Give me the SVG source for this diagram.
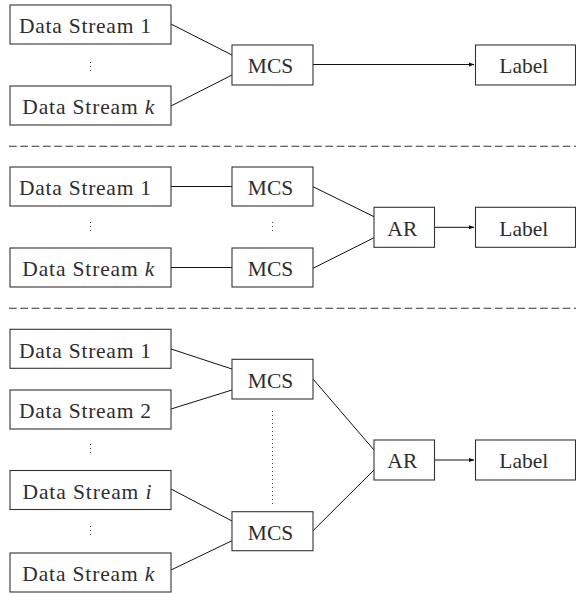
<svg xmlns="http://www.w3.org/2000/svg" width="576" height="593" viewBox="0 0 576 593">
  <style>
    .box { fill: #ffffff; stroke: #333333; stroke-width: 1.1; }
    .lbl { font-size: 21.5px; fill: #2e2e2e; text-anchor: middle; }
    .it { font-style: italic; }
    .edge { stroke: #111111; stroke-width: 1; fill: none; }
    .sep { stroke: #333333; stroke-width: 1.1; stroke-dasharray: 7.7 3.6; }
    .vd { stroke: #444444; stroke-width: 1; stroke-dasharray: 1 3; }
  </style>
  <defs>
    <marker id="tip" viewBox="0 0 6 6" refX="5.5" refY="3" markerWidth="6" markerHeight="6" markerUnits="userSpaceOnUse" orient="auto">
      <path d="M0,0.8 L6,3 L0,5.2 Z" fill="#111111"/>
    </marker>
  </defs>
  <rect width="576" height="593" fill="#ffffff"/>

  <!-- connectors -->
  <g id="connectors">
    <!-- panel 1 -->
    <line class="edge" x1="171" y1="24" x2="232" y2="55"/>
    <line class="edge" x1="171" y1="106" x2="232" y2="75"/>
    <line class="edge" x1="313" y1="64.5" x2="474" y2="64.5" marker-end="url(#tip)"/>
    <!-- panel 2 -->
    <line class="edge" x1="171" y1="186.5" x2="232" y2="186.5"/>
    <line class="edge" x1="171" y1="267.5" x2="232" y2="267.5"/>
    <line class="edge" x1="313" y1="186.7" x2="374" y2="216.7"/>
    <line class="edge" x1="313" y1="268.3" x2="374" y2="237.7"/>
    <line class="edge" x1="434.5" y1="227.3" x2="474" y2="227.3" marker-end="url(#tip)"/>
    <!-- panel 3 -->
    <line class="edge" x1="171" y1="349" x2="232" y2="369"/>
    <line class="edge" x1="171" y1="409" x2="232" y2="390"/>
    <line class="edge" x1="171" y1="489" x2="232" y2="521"/>
    <line class="edge" x1="171" y1="570" x2="232" y2="540.7"/>
    <line class="edge" x1="313" y1="379" x2="374" y2="450"/>
    <line class="edge" x1="313" y1="530.7" x2="374" y2="470"/>
    <line class="edge" x1="434.5" y1="460" x2="474" y2="460" marker-end="url(#tip)"/>
  </g>

  <!-- panel separators -->
  <g id="separators">
    <line class="sep" x1="9" y1="146.3" x2="576" y2="146.3"/>
    <line class="sep" x1="9" y1="308.3" x2="576" y2="308.3"/>
  </g>

  <!-- ellipsis marks -->
  <g id="ellipses">
    <line class="vd" x1="90.5" y1="62" x2="90.5" y2="74"/>
    <line class="vd" x1="90.5" y1="222" x2="90.5" y2="234"/>
    <line class="vd" x1="272.5" y1="222" x2="272.5" y2="234"/>
    <line class="vd" x1="90.5" y1="444" x2="90.5" y2="456"/>
    <line class="vd" x1="90.5" y1="526" x2="90.5" y2="538"/>
    <line class="vd" x1="272.5" y1="411" x2="272.5" y2="504"/>
  </g>

  <g id="nodes" font-family="Liberation Serif, Times New Roman, serif">
  <!-- panel 1 nodes -->
  <g id="p1-ds1"><rect class="box" x="10" y="5" width="161" height="39"/><text class="lbl" x="85" y="33.3" textLength="132">Data Stream 1</text></g>
  <g id="p1-dsk"><rect class="box" x="10" y="86" width="161" height="39"/><text class="lbl" x="88.3" y="114.3" textLength="132">Data Stream <tspan class="it">k</tspan></text></g>
  <g id="p1-mcs"><rect class="box" x="232" y="45" width="81" height="40"/><text class="lbl" x="270.5" y="73.3" textLength="45.6">MCS</text></g>
  <g id="p1-label"><rect class="box" x="475.5" y="45" width="100" height="40"/><text class="lbl" x="523.8" y="73.3" textLength="49">Label</text></g>

  <!-- panel 2 nodes -->
  <g id="p2-ds1"><rect class="box" x="10" y="167" width="161" height="39"/><text class="lbl" x="85" y="195.3" textLength="132">Data Stream 1</text></g>
  <g id="p2-dsk"><rect class="box" x="10" y="248" width="161" height="39"/><text class="lbl" x="88.3" y="276.3" textLength="132">Data Stream <tspan class="it">k</tspan></text></g>
  <g id="p2-mcs1"><rect class="box" x="232" y="167" width="81" height="39"/><text class="lbl" x="270.5" y="195.3" textLength="45.6">MCS</text></g>
  <g id="p2-mcsk"><rect class="box" x="232" y="248" width="81" height="39"/><text class="lbl" x="270.5" y="276.3" textLength="45.6">MCS</text></g>
  <g id="p2-ar"><rect class="box" x="374" y="207.3" width="60.5" height="40"/><text class="lbl" x="402.3" y="235.5" textLength="30">AR</text></g>
  <g id="p2-label"><rect class="box" x="475.5" y="207.3" width="100" height="40"/><text class="lbl" x="523.8" y="235.5" textLength="49">Label</text></g>

  <!-- panel 3 nodes -->
  <g id="p3-ds1"><rect class="box" x="10" y="329.3" width="161" height="39"/><text class="lbl" x="85" y="357.6" textLength="132">Data Stream 1</text></g>
  <g id="p3-ds2"><rect class="box" x="10" y="390" width="161" height="39"/><text class="lbl" x="85" y="418.3" textLength="132">Data Stream 2</text></g>
  <g id="p3-dsi"><rect class="box" x="10" y="470.5" width="161" height="39"/><text class="lbl" x="87" y="498.8" textLength="129">Data Stream <tspan class="it">i</tspan></text></g>
  <g id="p3-dsk"><rect class="box" x="10" y="553" width="161" height="39"/><text class="lbl" x="88.3" y="581.3" textLength="132">Data Stream <tspan class="it">k</tspan></text></g>
  <g id="p3-mcs1"><rect class="box" x="232" y="359.3" width="81" height="39.7"/><text class="lbl" x="270.5" y="387.6" textLength="45.6">MCS</text></g>
  <g id="p3-mcs2"><rect class="box" x="232" y="511.7" width="81" height="39"/><text class="lbl" x="270.5" y="540" textLength="45.6">MCS</text></g>
  <g id="p3-ar"><rect class="box" x="374" y="440" width="60.5" height="40"/><text class="lbl" x="402.3" y="468.3" textLength="30">AR</text></g>
  <g id="p3-label"><rect class="box" x="475.5" y="440" width="100" height="40"/><text class="lbl" x="523.8" y="468.3" textLength="49">Label</text></g>
  </g>
</svg>
